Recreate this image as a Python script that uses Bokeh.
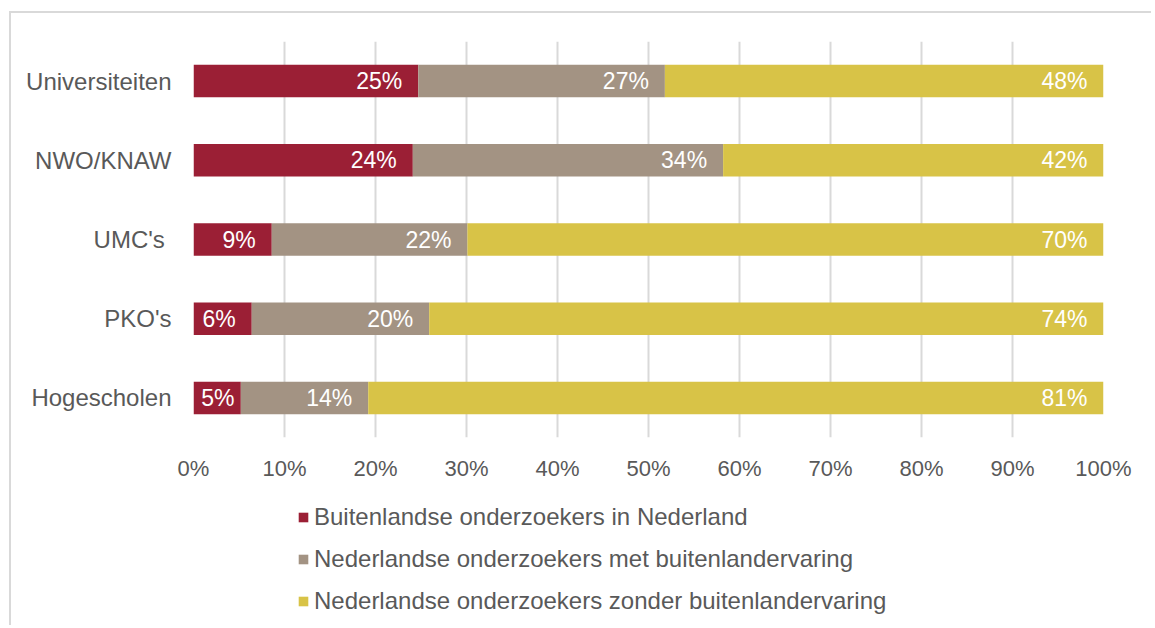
from bokeh.plotting import figure
from bokeh.models import (FactorRange, Range1d, FixedTicker, PrintfTickFormatter,
                          ColumnDataSource, LabelSet, Legend, LegendItem)
from bokeh.layouts import column
from bokeh.core.properties import value
from bokeh.embed import file_html
from bokeh.resources import INLINE

categories = ["Universiteiten", "NWO/KNAW", "UMC's ", "PKO's", "Hogescholen"]
buitenlands = [24.7, 24.1, 8.6, 6.4, 5.2]
met_ervaring = [27.1, 34.1, 21.5, 19.5, 14.0]
zonder_ervaring = [48.2, 41.8, 69.9, 74.1, 80.8]
lbl_buitenlands = ["25%", "24%", "9%", "6%", "5%"]
lbl_met = ["27%", "34%", "22%", "20%", "14%"]
lbl_zonder = ["48%", "42%", "70%", "74%", "81%"]
series_names = ["Buitenlandse onderzoekers in Nederland",
                "Nederlandse onderzoekers met buitenlandervaring",
                "Nederlandse onderzoekers zonder buitenlandervaring"]
x_ticks = [0, 10, 20, 30, 40, 50, 60, 70, 80, 90, 100]

colors = ["#9B1F35", "#A39383", "#D8C347"]
FONT = "Liberation Sans"
TXT = "#595959"

FRAME_W = 910          # pixel width of the plotting frame (0..100%)
PAD_END = 16           # label inset from the segment end
LABEL_W = 34           # approx. width of a two-char label
MIN_PAD = 7

end1 = [a for a in buitenlands]
end2 = [a + b for a, b in zip(buitenlands, met_ervaring)]
end3 = [a + b + c for a, b, c in zip(buitenlands, met_ervaring, zonder_ervaring)]


def offsets(vals):
    out = []
    for v in vals:
        seg = v / 100 * FRAME_W
        out.append(-min(PAD_END, max(0, seg - LABEL_W - MIN_PAD)))
    return out


src = ColumnDataSource(dict(cat=categories, b=buitenlands, m=met_ervaring, z=zonder_ervaring,
                            e1=end1, e2=end2, e3=end3,
                            o1=offsets(buitenlands), o2=offsets(met_ervaring),
                            o3=offsets(zonder_ervaring),
                            l1=lbl_buitenlands, l2=lbl_met, l3=lbl_zonder))

W = 1140
p = figure(width=W, height=475, output_backend="svg", toolbar_location=None,
           y_range=FactorRange(factors=list(reversed(categories)), range_padding=0),
           x_range=Range1d(0, 100),
           min_border_left=182, min_border_right=48, min_border_top=28, min_border_bottom=51)
p.outline_line_color = None
p.background_fill_color = "white"
p.border_fill_color = "white"

renderers = p.hbar_stack(["b", "m", "z"], y="cat", height=0.41, color=colors, source=src,
                         line_color=None)

for endcol, offcol, lblcol in [("e1", "o1", "l1"), ("e2", "o2", "l2"), ("e3", "o3", "l3")]:
    ls = LabelSet(x=endcol, y="cat", text=lblcol, source=src, x_offset=offcol,
                  text_align="right", text_baseline="middle", text_color="white",
                  text_font=value(FONT), text_font_size="23px")
    p.add_layout(ls)

p.xgrid.ticker = FixedTicker(ticks=x_ticks)
p.xgrid.grid_line_color = "#d9d9d9"
p.xgrid.grid_line_width = 2
p.ygrid.grid_line_color = None

p.xaxis.ticker = FixedTicker(ticks=x_ticks)
p.xaxis.formatter = PrintfTickFormatter(format="%d%%")
for ax in (p.xaxis[0], p.yaxis[0]):
    ax.axis_line_color = None
    ax.major_tick_line_color = None
    ax.minor_tick_line_color = None
    ax.major_label_text_font = FONT
    ax.major_label_text_font_size = "22px"
    ax.major_label_text_color = TXT
p.yaxis.major_label_text_font_size = "24px"
p.xaxis.major_label_standoff = 12
p.yaxis.major_label_standoff = 16

# legend panel as a separate figure below the chart (frames are aligned in the column)
q = figure(width=W, height=137, output_backend="svg", toolbar_location=None,
           x_range=Range1d(0, 1), y_range=Range1d(0, 1),
           min_border_left=0, min_border_right=0, min_border_top=0, min_border_bottom=0)
q.axis.visible = False
q.grid.grid_line_color = None
q.outline_line_color = None
q.border_fill_color = "white"
empty = ColumnDataSource(dict(y=[0.5], right=[0]))
leg_rs = [q.hbar(y="y", right="right", height=0, fill_color=c, line_color=None, source=empty)
          for c in colors]
items = [LegendItem(label=n, renderers=[r]) for n, r in zip(series_names, leg_rs)]
legend = Legend(items=items, location=(104, 9), orientation="vertical",
                glyph_width=12, glyph_height=12, label_height=30, spacing=12,
                label_standoff=5, padding=0, margin=0,
                label_text_font=FONT, label_text_font_size="24px", label_text_color=TXT,
                border_line_color=None, background_fill_alpha=0)
q.add_layout(legend)

layout = column(p, q, spacing=0)
layout.margin = (11, 0, 0, 9)
layout.styles = {"border-top": "2px solid #d9d9d9", "border-left": "2px solid #d9d9d9"}

open("out.html", "w").write(file_html(layout, INLINE))
